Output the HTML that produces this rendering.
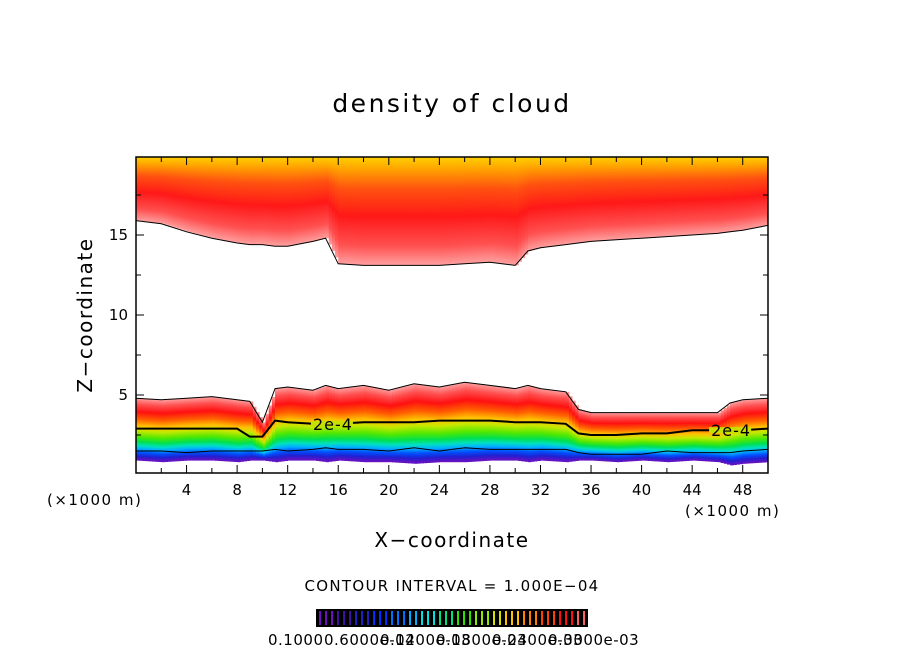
<!DOCTYPE html>
<html><head><meta charset="utf-8"><style>
body{margin:0;background:#fff;width:904px;height:654px;overflow:hidden}
text{font-family:"DejaVu Sans","Liberation Sans",sans-serif;fill:#000}
</style></head><body>
<svg id="c" width="904" height="654">
<defs>
<linearGradient id="gTop" x1="0" y1="0" x2="0" y2="1">
<stop offset="0" stop-color="#ffd000"/><stop offset="0.12" stop-color="#ffa000"/>
<stop offset="0.3" stop-color="#ff5010"/><stop offset="0.55" stop-color="#ff1818"/>
<stop offset="0.82" stop-color="#ff5050"/><stop offset="1" stop-color="#ffa0a0"/></linearGradient>
<linearGradient id="gLow" x1="0" y1="0" x2="0" y2="1">
<stop offset="0" stop-color="#ffa0a0"/><stop offset="0.1" stop-color="#ff5050"/>
<stop offset="0.22" stop-color="#ff1010"/><stop offset="0.34" stop-color="#ff6000"/>
<stop offset="0.44" stop-color="#ffc000"/><stop offset="0.52" stop-color="#c8e800"/>
<stop offset="0.62" stop-color="#50e800"/><stop offset="0.7" stop-color="#00e050"/>
<stop offset="0.76" stop-color="#00e0c0"/><stop offset="0.81" stop-color="#00b0ff"/>
<stop offset="0.87" stop-color="#0050ff"/><stop offset="0.93" stop-color="#2020d0"/>
<stop offset="1" stop-color="#7010c0"/></linearGradient>
</defs>
<text x="452" y="112" font-size="25" letter-spacing="2.5" text-anchor="middle">density of cloud</text>
<g id="plot"></g>
<rect x="136" y="157" width="632" height="316" fill="none" stroke="#000" stroke-width="1.5"/>
<g id="ticks"></g>
<text x="47" y="505" font-size="15" letter-spacing="1.5">(×1000 m)</text>
<text x="685" y="516" font-size="15" letter-spacing="1.5">(×1000 m)</text>
<text x="452" y="547" font-size="20" letter-spacing="1.5" text-anchor="middle">X−coordinate</text>
<text transform="translate(92,315) rotate(-90)" font-size="20" letter-spacing="1.5" text-anchor="middle">Z−coordinate</text>
<text x="452" y="591" font-size="15" letter-spacing="1.3" text-anchor="middle">CONTOUR INTERVAL = 1.000E−04</text>
<g id="cbar"></g>
</svg>
<script>
const xs=[0,2,4,6,8,9,10,11,12,14,15,16,18,20,22,24,26,28,30,31,32,34,35,36,38,40,42,44,46,47,48,50];
const upperBase=[15.9,15.7,15.2,14.8,14.5,14.4,14.4,14.3,14.3,14.6,14.8,13.2,13.1,13.1,13.1,13.1,13.2,13.3,13.1,14.0,14.2,14.4,14.5,14.6,14.7,14.8,14.9,15.0,15.1,15.2,15.3,15.6];
const lowTop=[4.8,4.7,4.8,4.9,4.7,4.6,3.3,5.4,5.5,5.3,5.6,5.4,5.6,5.3,5.7,5.5,5.8,5.6,5.4,5.6,5.4,5.2,4.1,3.9,3.9,3.9,3.9,3.9,3.9,4.5,4.7,4.8];
const lowBase=[0.9,0.8,0.9,0.9,0.8,0.9,0.9,0.8,0.9,0.9,0.8,0.9,0.8,0.8,0.7,0.8,0.8,0.9,0.9,0.8,0.9,0.8,0.9,0.9,0.8,0.9,0.8,0.9,0.8,0.6,0.7,0.8];
const contour2e4=[2.9,2.9,2.9,2.9,2.9,2.4,2.4,3.4,3.3,3.2,3.2,3.2,3.3,3.3,3.3,3.4,3.4,3.4,3.3,3.3,3.3,3.2,2.6,2.5,2.5,2.6,2.6,2.8,2.8,2.8,2.8,2.9];
const contour1e4=[1.5,1.5,1.4,1.5,1.5,1.5,1.5,1.6,1.5,1.6,1.7,1.6,1.6,1.5,1.7,1.5,1.7,1.6,1.6,1.6,1.6,1.6,1.4,1.3,1.3,1.3,1.5,1.4,1.4,1.4,1.5,1.6];
const xTickLabels=[4,8,12,16,20,24,28,32,36,40,44,48];
const yTickLabels=[5,10,15];
const cbarLabels=["0.1000","0.6000e-04","0.1200e-03","0.1800e-03","0.2400e-03","0.3000e-03"];
const NS="http://www.w3.org/2000/svg";
const X=v=>136+v*632/50, Y=v=>475-v*16;
function el(t,a,p){const e=document.createElementNS(NS,t);for(const k in a)e.setAttribute(k,a[k]);p.appendChild(e);return e;}
const plot=document.getElementById('plot');
const interp=(arr,x)=>{for(let i=0;i<xs.length-1;i++){if(x>=xs[i]&&x<=xs[i+1]){const t=(x-xs[i])/(xs[i+1]-xs[i]);return arr[i]+t*(arr[i+1]-arr[i]);}}return arr[arr.length-1];};
for(let x=0;x<50;x+=0.25){
  const ub=interp(upperBase,x);
  const r=el('rect',{x:X(x),y:157,width:632/200+0.4,height:Y(ub)-157,fill:'url(#gTop)'},plot);
  
  
  const lt=interp(lowTop,x),lb=interp(lowBase,x);
  const r2=el('rect',{x:X(x),y:Y(lt),width:632/200+0.4,height:Y(lb)-Y(lt),fill:'url(#gLow)'},plot);
  
  
}
const line=(arr,w,name)=>{const p=el('polyline',{points:xs.map((x,i)=>X(x)+','+Y(arr[i])).join(' '),fill:'none',stroke:'#000','stroke-width':w},plot);
  
  };
line(upperBase,1,'upper-cloud-edge');
line(lowTop,1,'lower-cloud-top-edge');
line(contour2e4,2,'contour-2e-4');
line(contour1e4,1,'contour-1e-4');
[[14,'2e-4'],[45.5,'2e-4']].forEach(([x,s])=>{
  const yy=Y(interp(contour2e4,x));
  el('rect',{x:X(x)-2,y:yy-3,width:42,height:6,fill:'#c8e000'},plot);
  const t=el('text',{x:X(x),y:yy+6,'font-size':16,'letter-spacing':1},plot);t.textContent=s;
  
  
});
const tk=document.getElementById('ticks');
for(let v=2;v<50;v+=2){const big=v%4==0;
  el('line',{x1:X(v),x2:X(v),y1:473,y2:473-(big?8:5),stroke:'#000'},tk);
  el('line',{x1:X(v),x2:X(v),y1:157,y2:157+(big?8:5),stroke:'#000'},tk);}
xTickLabels.forEach(v=>{const t=el('text',{x:X(v),y:495,'font-size':15,'text-anchor':'middle'},tk);t.textContent=v;
  
  });
for(let v=2.5;v<20;v+=2.5){const big=v%5==0;
  el('line',{x1:136,x2:136+(big?8:5),y1:Y(v),y2:Y(v),stroke:'#000'},tk);
  el('line',{x1:768,x2:768-(big?8:5),y1:Y(v),y2:Y(v),stroke:'#000'},tk);}
yTickLabels.forEach(v=>{const t=el('text',{x:128,y:Y(v)+5,'font-size':15,'text-anchor':'end'},tk);t.textContent=v;
  
  });
const cb=document.getElementById('cbar');
el('rect',{x:316,y:609,width:272,height:18,fill:'#000'},cb);
const cols=['#7010c0','#4010a0','#2020c0','#0030ff','#0070ff','#00b0ff','#00e0e0','#00e080','#30e000','#90e800','#d8e000','#ffc000','#ff8000','#ff4000','#ff1010','#ff6060'];
for(let i=0;i<45;i++){const c=cols[Math.floor(i*cols.length/45)];
  el('rect',{x:319+i*6,y:611,width:2,height:14,fill:c},cb);}
cbarLabels.forEach((s,i)=>{const t=el('text',{x:268+i*56,y:645,'font-size':15,'letter-spacing':0.5},cb);t.textContent=s;
  
  });
</script>
</body></html>
